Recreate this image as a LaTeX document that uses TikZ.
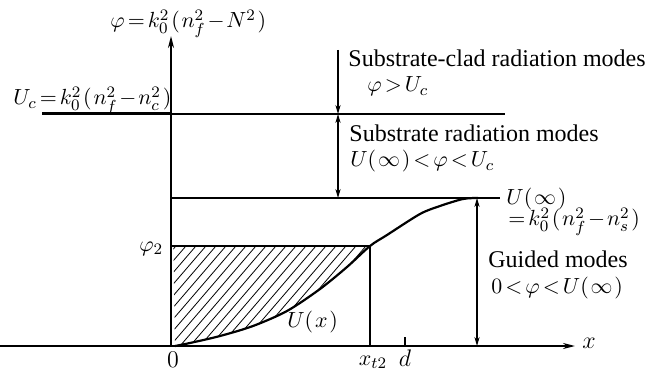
\documentclass[tikz,border=0pt]{standalone}
\usepackage{fontspec}
\setmainfont{Liberation Serif}
\usetikzlibrary{arrows.meta}
\thickmuskip=2.5mu plus 1mu
\medmuskip=1.5mu plus 1mu
\newcommand{\tinysp}{\mskip1.5mu}
\begin{document}
\begin{tikzpicture}[x=0.5pt,y=-0.5pt,
  font=\fontsize{12}{14}\selectfont,
  axis/.style={line width=0.9pt},
  level/.style={line width=0.6pt},
  dim/.style={line width=0.6pt,{Stealth[length=4.5pt,width=2.6pt]}-{Stealth[length=4.5pt,width=2.6pt]}},
  lbl/.style={inner sep=0pt,anchor=base west},
  mlbl/.style={inner sep=0pt,anchor=base west,font=\fontsize{11}{13}\selectfont},
  hatch/.style={line width=0.4pt}]
\useasboundingbox (0,0) rectangle (646,373);
% key coordinates
\coordinate (O) at (171,346);
\coordinate (ytop) at (171,36);
\coordinate (xleft) at (0,346);
\coordinate (xright) at (575,346);
\coordinate (ucl) at (42,114);
\coordinate (ucm) at (171,114);
\coordinate (ucr) at (505,114);
\coordinate (uil) at (171,198);
\coordinate (uir) at (500,198);
\coordinate (p2l) at (171,246);
\coordinate (p2r) at (370,246);
\coordinate (xt) at (370,346);
\coordinate (dtop) at (405,337);
\coordinate (dbot) at (405,346);
\coordinate (a1top) at (338,50);
\coordinate (a1bot) at (338,114);
\coordinate (a2bot) at (338,198);
\coordinate (g1) at (477,198);
\coordinate (g2) at (477,346);
\def\curvepts{(175,346) (190,343) (220,336) (253,326) (287,311) (320,289) (347,267) (370,246) (387,235) (420,214) (440,206) (463,199) (478,198)}
% hatching
\begin{scope}
  \clip (171,246) rectangle (370,346);
  \clip plot[smooth] coordinates {(175,346) (190,343) (220,336) (253,326) (287,311) (320,289) (347,267) (370,246) (387,235) (420,214) (440,206) (463,199) (478,198)} -- (478,100) -- (171,100) -- cycle;
  \foreach \i in {-150,-140,...,380} \draw[hatch] (\i,346) -- ++(110,-128);
\end{scope}
% axes
\draw[axis,-{Stealth[length=6pt,width=3pt]}] (O) -- (ytop);
\draw[axis,-{Stealth[length=6pt,width=3pt]}] (xleft) -- (xright);
% levels
\draw[line width=1.5pt] (ucl) -- (ucm);
\draw[level] (ucm) -- (ucr);
\draw[level] (uil) -- (uir);
\draw[level] (p2l) -- (p2r);
\draw[level] (p2r) -- (xt);
\draw[level] (dtop) -- (dbot);
% curve
\draw[line width=1.1pt] plot[smooth] coordinates {(175,346) (190,343) (220,336) (253,326) (287,311) (320,289) (347,267) (370,246) (387,235) (420,214) (440,206) (463,199) (478,198)};
% arrows
\draw[level,-{Stealth[length=4.5pt,width=2.6pt]}] (a1top) -- (a1bot);
\draw[dim] (a1bot) -- (a2bot);
\draw[dim] (g1) -- (g2);
% labels
\node[mlbl] (tphi) at (110,28) {$\varphi = k_0^2\tinysp(\tinysp n_f^2 - N^2\tinysp)$};
\node[mlbl] (tuc) at (13,105) {$U_c = k_0^2\tinysp(\tinysp n_f^2 - n_c^2\tinysp)$};
\node[lbl] (tsc) at (348,67) {Substrate-clad radiation modes};
\node[mlbl] (tsc2) at (367,92) {$\varphi > U_c$};
\node[lbl] (tsr) at (349,142) {Substrate radiation modes};
\node[mlbl] (tsr2) at (350,167) {$U(\tinysp\infty\tinysp) < \varphi < U_c$};
\node[mlbl] (tui) at (506,205) {$U(\tinysp\infty\tinysp)$};
\node[mlbl] (tui2) at (508,226) {$= k_0^2\tinysp(\tinysp n_f^2 - n_s^2\tinysp)$};
\node[lbl] (tgm) at (488,267) {Guided modes};
\node[mlbl] (tgm2) at (491,293) {$0 < \varphi < U(\tinysp\infty\tinysp)$};
\node[mlbl] (tp2) at (139,251) {$\varphi_2$};
\node[mlbl] (tux) at (287,327) {$U(\tinysp x\tinysp)$};
\node[inner sep=0pt,anchor=base] (t0) at (173,367) {$0$};
\node[inner sep=0pt,anchor=base,font=\fontsize{11}{13}\selectfont] (txt) at (373,365) {$x_{t2}$};
\node[inner sep=0pt,anchor=base] (td) at (405,366) {$d$};
\node[inner sep=0pt,anchor=west] (tx) at (582,343) {$x$};
\end{tikzpicture}
\end{document}
